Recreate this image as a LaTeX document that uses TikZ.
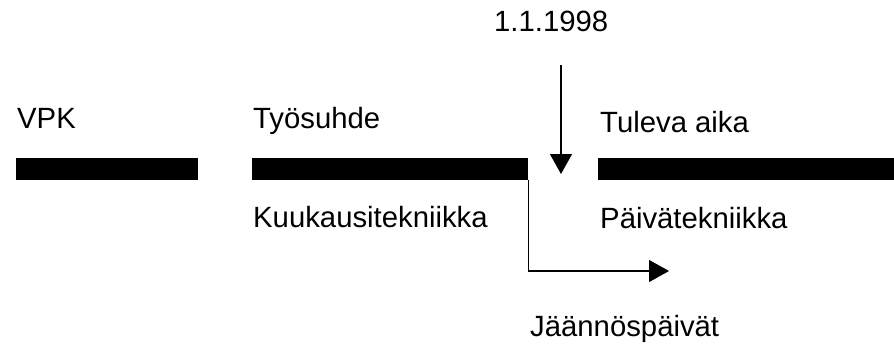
\documentclass[tikz,border=0pt]{standalone}
\usepackage{fontspec}
\setmainfont{Liberation Sans}
\usetikzlibrary{arrows.meta}
\tikzset{bar/.style={
  fill=black,
  draw=none,
  inner sep=0pt,
  minimum height=22pt,
  anchor=north west
  },
  lbl/.style={
  anchor=base west,
  inner sep=0pt,
  font=\fontsize{29.3}{33}\selectfont
  },
  my arrow/.style={
  line width=1.3pt,
  -{Triangle[width=22pt,length=20pt]}
  }
}
\begin{document}
\begin{tikzpicture}[x=1pt,y=-1pt]
    \useasboundingbox (0,0) rectangle (894,345);

    \node[bar,minimum width=182pt] (vpk) at (16,158) {};
    \node[bar,minimum width=276pt] (tyo) at (252,158) {};
    \node[bar,minimum width=296pt] (tuleva) at (598,158) {};

    \node[lbl] (Lvpk) at (17,128) {VPK};
    \node[lbl] (Ltyo) at (253,128) {Työsuhde};
    \node[lbl] (Ltuleva) at (600,132) {Tuleva aika};
    \node[lbl] (Lkuukausi) at (253,227) {Kuukausitekniikka};
    \node[lbl] (Lpaiva) at (600,228) {Päivätekniikka};
    \node[lbl] (Ljaannos) at (530,336) {Jäännöspäivät};
    \node[lbl] (Ldate) at (494,32) {1.1.1998};

    \coordinate (Dtop) at (561,65);
    \coordinate (Dend) at (561,174);
    \coordinate (Rend) at (669,271);

    \draw[my arrow] (Dtop) to (Dend);
    \draw[my arrow] (tyo.south east) |- (Rend);

\end{tikzpicture}
\end{document}
